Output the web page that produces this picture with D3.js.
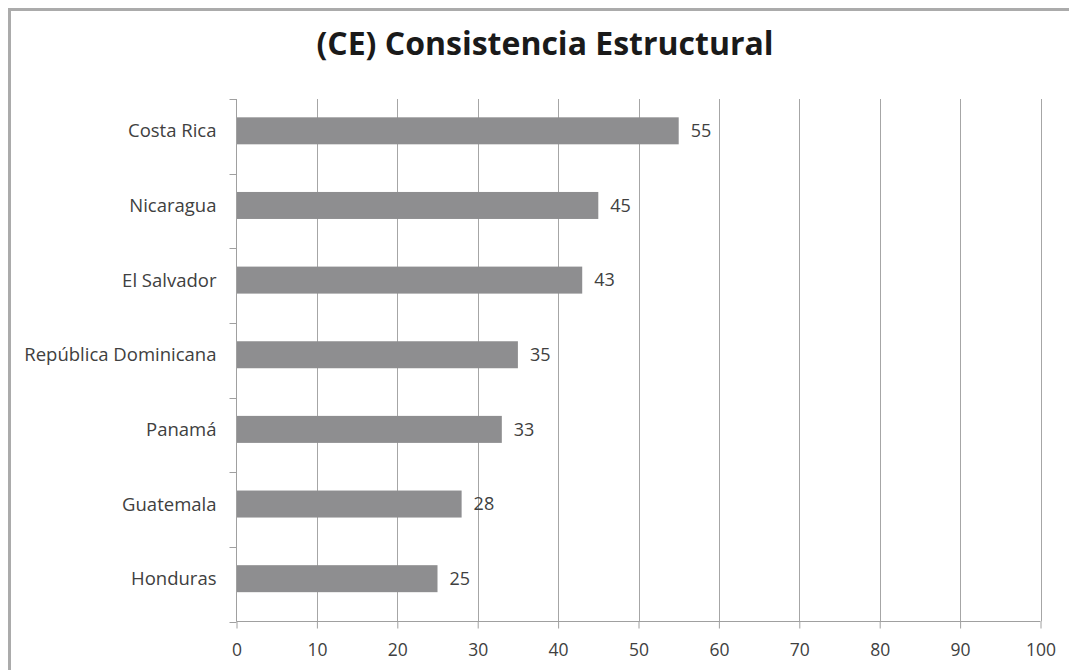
<!DOCTYPE html>
<html>
<head>
<meta charset="utf-8">
<script src="https://cdn.jsdelivr.net/npm/d3@7"></script>
<style>
  html, body { margin: 0; padding: 0; background: #fff; }
  svg { display: block; }
  text { font-family: "Open Sans", Lato, sans-serif; fill: #404040; }
</style>
</head>
<body>
<svg id="chart" width="1069" height="670"></svg>
<script>
// Structural consistency score by country
const categories = ["Costa Rica", "Nicaragua", "El Salvador", "República Dominicana", "Panamá", "Guatemala", "Honduras"];
const values = [55, 45, 43, 35, 33, 28, 25];
const xTicks = [0, 10, 20, 30, 40, 50, 60, 70, 80, 90, 100];
const titleText = "(CE) Consistencia Estructural";

const svg = d3.select("#chart");
const W = 1069, H = 670;
const plot = { left: 236.5, right: 1040.5, top: 99, bottom: 621.5 };

// Chart frame (runs off the right and bottom edges)
svg.append("rect")
  .attr("x", 9.5).attr("y", 9.5)
  .attr("width", W + 20).attr("height", H + 20)
  .attr("fill", "none").attr("stroke", "#ababab").attr("stroke-width", 3);

svg.append("text")
  .attr("x", 545).attr("y", 55)
  .attr("text-anchor", "middle")
  .style("font-weight", "bold")
  .style("font-size", "32px")
  .style("fill", "#1a1a1a")
  .text(titleText);

const x = d3.scaleLinear().domain([0, 100]).range([plot.left, plot.right]);
const y = d3.scaleBand().domain(categories).range([plot.top, plot.bottom]).paddingInner(0).paddingOuter(0);
const barH = 27;
const barShift = -5.5;

// Vertical gridlines
svg.append("g")
  .selectAll("line")
  .data(xTicks.filter(d => d > 0))
  .join("line")
  .attr("x1", d => Math.round(x(d)) + 0.5).attr("x2", d => Math.round(x(d)) + 0.5)
  .attr("y1", plot.top).attr("y2", plot.bottom)
  .attr("stroke", "#a6a6a6").attr("stroke-width", 1);

// Bars
svg.append("g")
  .selectAll("rect")
  .data(categories)
  .join("rect")
  .attr("x", x(0))
  .attr("y", (d) => y(d) + y.bandwidth() / 2 - barH / 2 + barShift)
  .attr("width", (d, i) => x(values[i]) - x(0))
  .attr("height", barH)
  .attr("fill", "#8e8e90");

// Value labels
svg.append("g")
  .selectAll("text")
  .data(categories)
  .join("text")
  .attr("x", (d, i) => x(values[i]) + 12)
  .attr("y", (d) => y(d) + y.bandwidth() / 2 + barShift)
  .attr("dy", "0.35em")
  .style("font-size", "18px")
  .text((d, i) => values[i]);

// Bottom axis
const xAxis = d3.axisBottom(x).tickValues(xTicks).tickSize(7).tickPadding(15).tickFormat(d3.format("d"));
const gx = svg.append("g").attr("transform", `translate(0,${plot.bottom})`).call(xAxis);
gx.select(".domain").attr("stroke", "#a0a0a0").attr("d", `M${plot.left},0H${plot.right}`);
gx.selectAll(".tick line").attr("stroke", "#a0a0a0");
gx.selectAll(".tick text").style("font-size", "17.5px").style("font-family", "'Open Sans', sans-serif").style("fill", "#404040");

// Left axis with ticks on band boundaries
const gy = svg.append("g").attr("transform", `translate(${plot.left},0)`);
gy.append("line")
  .attr("x1", 0).attr("x2", 0).attr("y1", plot.top).attr("y2", plot.bottom)
  .attr("stroke", "#a0a0a0");
const bounds = categories.map(c => y(c)).concat([plot.bottom]);
gy.selectAll("line.tk")
  .data(bounds)
  .join("line").attr("class", "tk")
  .attr("x1", -7).attr("x2", 0)
  .attr("y1", d => Math.round(d) + 0.5).attr("y2", d => Math.round(d) + 0.5)
  .attr("stroke", "#a0a0a0");
gy.selectAll("text")
  .data(categories)
  .join("text")
  .attr("x", -20)
  .attr("y", d => y(d) + y.bandwidth() / 2 + barShift)
  .attr("dy", "0.35em")
  .attr("text-anchor", "end")
  .style("font-size", "18.5px")
  .text(d => d);
</script>
</body>
</html>
